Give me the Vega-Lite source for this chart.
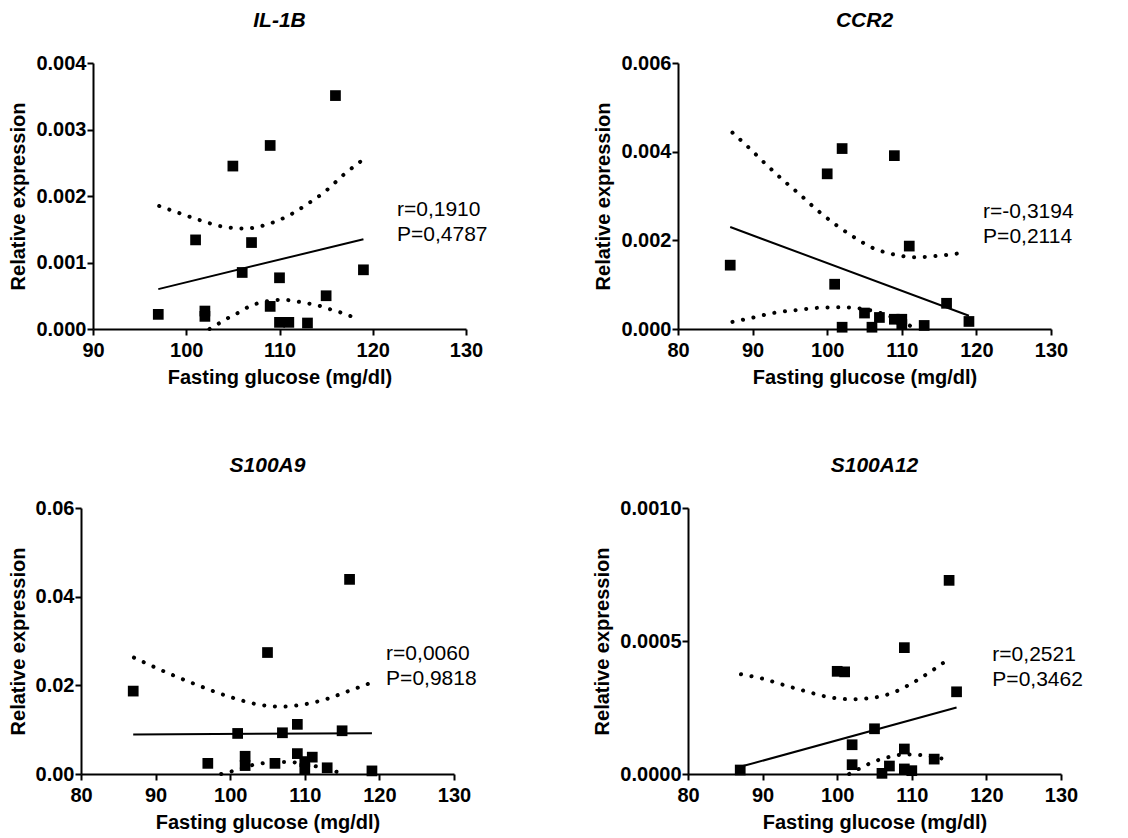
{
  "$schema": "https://vega.github.io/schema/vega-lite/v6.json",
  "background": "white",
  "padding": {"left": 1, "top": 10, "right": 5, "bottom": 5},
  "config": {
    "view": {"stroke": null},
    "font": "Liberation Sans",
    "title": {"font": "Liberation Sans", "fontSize": 21, "fontWeight": "bold", "fontStyle": "italic", "color": "black", "offset": 22, "frame": "group", "anchor": "middle"},
    "axis": {"grid": false, "domainColor": "black", "domainWidth": 2, "tickColor": "black", "tickWidth": 2, "tickSize": 6, "labelFont": "Liberation Sans", "labelFontWeight": "bold", "labelFontSize": 20, "labelColor": "black", "titleFont": "Liberation Sans", "titleFontWeight": "bold", "titleFontSize": 20, "titleColor": "black", "labelOverlap": false},
    "axisX": {"labelPadding": 5, "titlePadding": 7, "labelFlush": false},
    "axisY": {"labelPadding": 1, "titlePadding": 7}
  },
  "datasets": {
    "pts": [
      {"gene": "IL-1B", "glucose": 97, "expr": 0.00022},
      {"gene": "IL-1B", "glucose": 101, "expr": 0.00134},
      {"gene": "IL-1B", "glucose": 102, "expr": 0.00027},
      {"gene": "IL-1B", "glucose": 102, "expr": 0.00019},
      {"gene": "IL-1B", "glucose": 105, "expr": 0.00245},
      {"gene": "IL-1B", "glucose": 106, "expr": 0.00085},
      {"gene": "IL-1B", "glucose": 107, "expr": 0.0013},
      {"gene": "IL-1B", "glucose": 109, "expr": 0.00276},
      {"gene": "IL-1B", "glucose": 109, "expr": 0.00034},
      {"gene": "IL-1B", "glucose": 110, "expr": 0.00077},
      {"gene": "IL-1B", "glucose": 110, "expr": 0.0001},
      {"gene": "IL-1B", "glucose": 111, "expr": 0.0001},
      {"gene": "IL-1B", "glucose": 113, "expr": 0.00009},
      {"gene": "IL-1B", "glucose": 115, "expr": 0.0005},
      {"gene": "IL-1B", "glucose": 116, "expr": 0.00351},
      {"gene": "IL-1B", "glucose": 119, "expr": 0.00089},
      {"gene": "CCR2", "glucose": 87, "expr": 0.00144},
      {"gene": "CCR2", "glucose": 100, "expr": 0.0035},
      {"gene": "CCR2", "glucose": 101, "expr": 0.00101},
      {"gene": "CCR2", "glucose": 102, "expr": 0.00407},
      {"gene": "CCR2", "glucose": 102, "expr": 0.00004},
      {"gene": "CCR2", "glucose": 105, "expr": 0.00036},
      {"gene": "CCR2", "glucose": 106, "expr": 0.00004},
      {"gene": "CCR2", "glucose": 107, "expr": 0.00026},
      {"gene": "CCR2", "glucose": 109, "expr": 0.00391},
      {"gene": "CCR2", "glucose": 109, "expr": 0.00022},
      {"gene": "CCR2", "glucose": 110, "expr": 0.00022},
      {"gene": "CCR2", "glucose": 110, "expr": 0.0001},
      {"gene": "CCR2", "glucose": 111, "expr": 0.00187},
      {"gene": "CCR2", "glucose": 113, "expr": 0.00008},
      {"gene": "CCR2", "glucose": 116, "expr": 0.00058},
      {"gene": "CCR2", "glucose": 119, "expr": 0.00017},
      {"gene": "S100A9", "glucose": 87, "expr": 0.0187},
      {"gene": "S100A9", "glucose": 97, "expr": 0.0024},
      {"gene": "S100A9", "glucose": 101, "expr": 0.00915},
      {"gene": "S100A9", "glucose": 102, "expr": 0.004},
      {"gene": "S100A9", "glucose": 102, "expr": 0.0019},
      {"gene": "S100A9", "glucose": 105, "expr": 0.0274},
      {"gene": "S100A9", "glucose": 106, "expr": 0.0024},
      {"gene": "S100A9", "glucose": 107, "expr": 0.0093},
      {"gene": "S100A9", "glucose": 109, "expr": 0.0112},
      {"gene": "S100A9", "glucose": 109, "expr": 0.0046},
      {"gene": "S100A9", "glucose": 110, "expr": 0.0028},
      {"gene": "S100A9", "glucose": 110, "expr": 0.0012},
      {"gene": "S100A9", "glucose": 111, "expr": 0.0038},
      {"gene": "S100A9", "glucose": 113, "expr": 0.0014},
      {"gene": "S100A9", "glucose": 115, "expr": 0.00975},
      {"gene": "S100A9", "glucose": 116, "expr": 0.0439},
      {"gene": "S100A9", "glucose": 119, "expr": 0.0007},
      {"gene": "S100A12", "glucose": 87, "expr": 0.000015},
      {"gene": "S100A12", "glucose": 100, "expr": 0.000386},
      {"gene": "S100A12", "glucose": 101, "expr": 0.000384},
      {"gene": "S100A12", "glucose": 102, "expr": 0.00011},
      {"gene": "S100A12", "glucose": 102, "expr": 0.000035},
      {"gene": "S100A12", "glucose": 105, "expr": 0.00017},
      {"gene": "S100A12", "glucose": 106, "expr": 0.0000025},
      {"gene": "S100A12", "glucose": 107, "expr": 0.00003},
      {"gene": "S100A12", "glucose": 109, "expr": 0.000475},
      {"gene": "S100A12", "glucose": 109, "expr": 0.000094},
      {"gene": "S100A12", "glucose": 109, "expr": 0.000019},
      {"gene": "S100A12", "glucose": 110, "expr": 0.0000125},
      {"gene": "S100A12", "glucose": 113, "expr": 0.000056},
      {"gene": "S100A12", "glucose": 115, "expr": 0.000728},
      {"gene": "S100A12", "glucose": 116, "expr": 0.000309}
    ],
    "curves": [
      {"gene": "IL-1B", "curve": "fit", "glucose": 97, "expr": 0.0006},
      {"gene": "IL-1B", "curve": "fit", "glucose": 119, "expr": 0.00135},
      {"gene": "IL-1B", "curve": "upper", "glucose": 97.1, "expr": 0.00185},
      {"gene": "IL-1B", "curve": "upper", "glucose": 99.3, "expr": 0.00174},
      {"gene": "IL-1B", "curve": "upper", "glucose": 101.6, "expr": 0.00163},
      {"gene": "IL-1B", "curve": "upper", "glucose": 103.9, "expr": 0.00154},
      {"gene": "IL-1B", "curve": "upper", "glucose": 106.3, "expr": 0.00151},
      {"gene": "IL-1B", "curve": "upper", "glucose": 108.6, "expr": 0.00157},
      {"gene": "IL-1B", "curve": "upper", "glucose": 110.9, "expr": 0.0017},
      {"gene": "IL-1B", "curve": "upper", "glucose": 113.0, "expr": 0.00188},
      {"gene": "IL-1B", "curve": "upper", "glucose": 115.0, "expr": 0.00208},
      {"gene": "IL-1B", "curve": "upper", "glucose": 116.8, "expr": 0.00231},
      {"gene": "IL-1B", "curve": "upper", "glucose": 118.7, "expr": 0.00252},
      {"gene": "IL-1B", "curve": "lower", "glucose": 102.5, "expr": 0},
      {"gene": "IL-1B", "curve": "lower", "glucose": 103.7, "expr": 0.0001},
      {"gene": "IL-1B", "curve": "lower", "glucose": 104.8, "expr": 0.00019},
      {"gene": "IL-1B", "curve": "lower", "glucose": 105.8, "expr": 0.00026},
      {"gene": "IL-1B", "curve": "lower", "glucose": 106.9, "expr": 0.00035},
      {"gene": "IL-1B", "curve": "lower", "glucose": 108.1, "expr": 0.0004},
      {"gene": "IL-1B", "curve": "lower", "glucose": 109.3, "expr": 0.00043},
      {"gene": "IL-1B", "curve": "lower", "glucose": 110.4, "expr": 0.00044},
      {"gene": "IL-1B", "curve": "lower", "glucose": 111.6, "expr": 0.00042},
      {"gene": "IL-1B", "curve": "lower", "glucose": 112.8, "expr": 0.00039},
      {"gene": "IL-1B", "curve": "lower", "glucose": 114.0, "expr": 0.00036},
      {"gene": "IL-1B", "curve": "lower", "glucose": 115.1, "expr": 0.00031},
      {"gene": "IL-1B", "curve": "lower", "glucose": 116.3, "expr": 0.00026},
      {"gene": "IL-1B", "curve": "lower", "glucose": 117.5, "expr": 0.0002},
      {"gene": "IL-1B", "curve": "lower", "glucose": 118.6, "expr": 0.00015},
      {"gene": "CCR2", "curve": "fit", "glucose": 87, "expr": 0.0023},
      {"gene": "CCR2", "curve": "fit", "glucose": 119, "expr": 0.0003},
      {"gene": "CCR2", "curve": "upper", "glucose": 87.3, "expr": 0.00443},
      {"gene": "CCR2", "curve": "upper", "glucose": 89.5, "expr": 0.00409},
      {"gene": "CCR2", "curve": "upper", "glucose": 91.7, "expr": 0.00373},
      {"gene": "CCR2", "curve": "upper", "glucose": 94.0, "expr": 0.00337},
      {"gene": "CCR2", "curve": "upper", "glucose": 96.3, "expr": 0.00304},
      {"gene": "CCR2", "curve": "upper", "glucose": 98.6, "expr": 0.00269},
      {"gene": "CCR2", "curve": "upper", "glucose": 101.0, "expr": 0.00237},
      {"gene": "CCR2", "curve": "upper", "glucose": 103.5, "expr": 0.00208},
      {"gene": "CCR2", "curve": "upper", "glucose": 106.1, "expr": 0.00183},
      {"gene": "CCR2", "curve": "upper", "glucose": 109.0, "expr": 0.00168},
      {"gene": "CCR2", "curve": "upper", "glucose": 111.9, "expr": 0.00162},
      {"gene": "CCR2", "curve": "upper", "glucose": 114.9, "expr": 0.00165},
      {"gene": "CCR2", "curve": "upper", "glucose": 117.8, "expr": 0.00171},
      {"gene": "CCR2", "curve": "lower", "glucose": 87.3, "expr": 0.00016},
      {"gene": "CCR2", "curve": "lower", "glucose": 90.1, "expr": 0.00026},
      {"gene": "CCR2", "curve": "lower", "glucose": 93.1, "expr": 0.00037},
      {"gene": "CCR2", "curve": "lower", "glucose": 96.1, "expr": 0.00043},
      {"gene": "CCR2", "curve": "lower", "glucose": 99.0, "expr": 0.00048},
      {"gene": "CCR2", "curve": "lower", "glucose": 102.0, "expr": 0.00049},
      {"gene": "CCR2", "curve": "lower", "glucose": 104.9, "expr": 0.00045},
      {"gene": "CCR2", "curve": "lower", "glucose": 107.7, "expr": 0.00033},
      {"gene": "CCR2", "curve": "lower", "glucose": 110.4, "expr": 0.00013},
      {"gene": "CCR2", "curve": "lower", "glucose": 112.0, "expr": 0},
      {"gene": "S100A9", "curve": "fit", "glucose": 87, "expr": 0.0089},
      {"gene": "S100A9", "curve": "fit", "glucose": 119, "expr": 0.0092},
      {"gene": "S100A9", "curve": "upper", "glucose": 87.1, "expr": 0.02625},
      {"gene": "S100A9", "curve": "upper", "glucose": 89.8, "expr": 0.02415},
      {"gene": "S100A9", "curve": "upper", "glucose": 92.6, "expr": 0.0221},
      {"gene": "S100A9", "curve": "upper", "glucose": 95.4, "expr": 0.0202},
      {"gene": "S100A9", "curve": "upper", "glucose": 98.2, "expr": 0.0184},
      {"gene": "S100A9", "curve": "upper", "glucose": 101.1, "expr": 0.0168},
      {"gene": "S100A9", "curve": "upper", "glucose": 104.0, "expr": 0.0156},
      {"gene": "S100A9", "curve": "upper", "glucose": 107.0, "expr": 0.0152},
      {"gene": "S100A9", "curve": "upper", "glucose": 109.9, "expr": 0.0157},
      {"gene": "S100A9", "curve": "upper", "glucose": 112.9, "expr": 0.0169},
      {"gene": "S100A9", "curve": "upper", "glucose": 115.7, "expr": 0.0186},
      {"gene": "S100A9", "curve": "upper", "glucose": 118.6, "expr": 0.0204},
      {"gene": "S100A9", "curve": "lower", "glucose": 98.8, "expr": 0},
      {"gene": "S100A9", "curve": "lower", "glucose": 100.2, "expr": 0.0006},
      {"gene": "S100A9", "curve": "lower", "glucose": 101.7, "expr": 0.0014},
      {"gene": "S100A9", "curve": "lower", "glucose": 103.2, "expr": 0.0021},
      {"gene": "S100A9", "curve": "lower", "glucose": 104.7, "expr": 0.0025},
      {"gene": "S100A9", "curve": "lower", "glucose": 106.2, "expr": 0.0027},
      {"gene": "S100A9", "curve": "lower", "glucose": 107.7, "expr": 0.0027},
      {"gene": "S100A9", "curve": "lower", "glucose": 109.2, "expr": 0.0025},
      {"gene": "S100A9", "curve": "lower", "glucose": 110.7, "expr": 0.002},
      {"gene": "S100A9", "curve": "lower", "glucose": 112.1, "expr": 0.0015},
      {"gene": "S100A9", "curve": "lower", "glucose": 113.6, "expr": 0.0008},
      {"gene": "S100A9", "curve": "lower", "glucose": 115.0, "expr": 0.0002},
      {"gene": "S100A12", "curve": "fit", "glucose": 87, "expr": 0.000027},
      {"gene": "S100A12", "curve": "fit", "glucose": 116, "expr": 0.00025},
      {"gene": "S100A12", "curve": "upper", "glucose": 87.1, "expr": 0.000375},
      {"gene": "S100A12", "curve": "upper", "glucose": 89.9, "expr": 0.000359},
      {"gene": "S100A12", "curve": "upper", "glucose": 92.9, "expr": 0.000334},
      {"gene": "S100A12", "curve": "upper", "glucose": 95.8, "expr": 0.000311},
      {"gene": "S100A12", "curve": "upper", "glucose": 98.7, "expr": 0.00029},
      {"gene": "S100A12", "curve": "upper", "glucose": 101.7, "expr": 0.000281},
      {"gene": "S100A12", "curve": "upper", "glucose": 104.6, "expr": 0.000286},
      {"gene": "S100A12", "curve": "upper", "glucose": 107.5, "expr": 0.000306},
      {"gene": "S100A12", "curve": "upper", "glucose": 110.2, "expr": 0.000344},
      {"gene": "S100A12", "curve": "upper", "glucose": 112.8, "expr": 0.00039},
      {"gene": "S100A12", "curve": "upper", "glucose": 115.3, "expr": 0.00044},
      {"gene": "S100A12", "curve": "lower", "glucose": 101.6, "expr": 0},
      {"gene": "S100A12", "curve": "lower", "glucose": 103.1, "expr": 0.000022},
      {"gene": "S100A12", "curve": "lower", "glucose": 104.4, "expr": 0.00004},
      {"gene": "S100A12", "curve": "lower", "glucose": 105.9, "expr": 0.000056},
      {"gene": "S100A12", "curve": "lower", "glucose": 107.3, "expr": 0.000066},
      {"gene": "S100A12", "curve": "lower", "glucose": 108.8, "expr": 0.000073},
      {"gene": "S100A12", "curve": "lower", "glucose": 110.3, "expr": 0.000073},
      {"gene": "S100A12", "curve": "lower", "glucose": 111.7, "expr": 0.000069},
      {"gene": "S100A12", "curve": "lower", "glucose": 113.3, "expr": 0.000062},
      {"gene": "S100A12", "curve": "lower", "glucose": 114.8, "expr": 0.000054}
    ],
    "stats": [
      {"gene": "IL-1B", "label": "r=0,1910\nP=0,4787"},
      {"gene": "CCR2", "label": "r=-0,3194\nP=0,2114"},
      {"gene": "S100A9", "label": "r=0,0060\nP=0,9818"},
      {"gene": "S100A12", "label": "r=0,2521\nP=0,3462"}
    ]
  },
  "columns": 1,
  "bounds": "flush",
  "spacing": 445,
  "concat": [
    {
      "spacing": 0,
      "hconcat": [
        {"width": 1, "height": 1, "data": {"values": [{}]}, "mark": {"type": "point", "opacity": 0}},
        {
          "spacing": 105,
          "hconcat": [
            {
              "width": 373, "height": 266,
              "title": "IL-1B",
              "layer": [
                {
                  "data": {"name": "pts"},
                  "transform": [{"filter": "datum.gene === 'IL-1B'"}],
                  "mark": {"type": "point", "shape": "square", "filled": true, "color": "black", "opacity": 1, "size": 115},
                  "encoding": {
                    "x": {"field": "glucose", "type": "quantitative", "scale": {"domain": [90, 130], "nice": false, "zero": false}, "axis": {"title": "Fasting glucose (mg/dl)", "values": [90, 100, 110, 120, 130]}},
                    "y": {"field": "expr", "type": "quantitative", "scale": {"domain": [0, 0.004], "nice": false}, "axis": {"title": "Relative expression", "values": [0, 0.001, 0.002, 0.003, 0.004], "format": ".3f"}}
                  }
                },
                {
                  "data": {"name": "curves"},
                  "transform": [{"filter": "datum.gene === 'IL-1B' && datum.curve === 'fit'"}],
                  "mark": {"type": "line", "color": "black", "strokeWidth": 2},
                  "encoding": {"x": {"field": "glucose", "type": "quantitative"}, "y": {"field": "expr", "type": "quantitative"}}
                },
                {
                  "data": {"name": "curves"},
                  "transform": [{"filter": "datum.gene === 'IL-1B' && datum.curve !== 'fit'"}],
                  "mark": {"type": "line", "color": "black", "strokeWidth": 4, "strokeDash": [0.1, 10.6], "strokeCap": "round", "interpolate": "monotone"},
                  "encoding": {"x": {"field": "glucose", "type": "quantitative"}, "y": {"field": "expr", "type": "quantitative"}, "detail": {"field": "curve"}}
                },
                {
                  "data": {"name": "stats"},
                  "transform": [{"filter": "datum.gene === 'IL-1B'"}],
                  "mark": {"type": "text", "align": "left", "baseline": "middle", "font": "Liberation Sans", "fontSize": 21, "lineHeight": 25, "lineBreak": "\n", "color": "black"},
                  "encoding": {"x": {"datum": 122.6, "type": "quantitative"}, "y": {"datum": 0.00179, "type": "quantitative"}, "text": {"field": "label"}}
                }
              ]
            },
            {
              "width": 373, "height": 266,
              "title": "CCR2",
              "layer": [
                {
                  "data": {"name": "pts"},
                  "transform": [{"filter": "datum.gene === 'CCR2'"}],
                  "mark": {"type": "point", "shape": "square", "filled": true, "color": "black", "opacity": 1, "size": 115},
                  "encoding": {
                    "x": {"field": "glucose", "type": "quantitative", "scale": {"domain": [80, 130], "nice": false, "zero": false}, "axis": {"title": "Fasting glucose (mg/dl)", "values": [80, 90, 100, 110, 120, 130]}},
                    "y": {"field": "expr", "type": "quantitative", "scale": {"domain": [0, 0.006], "nice": false}, "axis": {"title": "Relative expression", "values": [0, 0.002, 0.004, 0.006], "format": ".3f"}}
                  }
                },
                {
                  "data": {"name": "curves"},
                  "transform": [{"filter": "datum.gene === 'CCR2' && datum.curve === 'fit'"}],
                  "mark": {"type": "line", "color": "black", "strokeWidth": 2},
                  "encoding": {"x": {"field": "glucose", "type": "quantitative"}, "y": {"field": "expr", "type": "quantitative"}}
                },
                {
                  "data": {"name": "curves"},
                  "transform": [{"filter": "datum.gene === 'CCR2' && datum.curve !== 'fit'"}],
                  "mark": {"type": "line", "color": "black", "strokeWidth": 4, "strokeDash": [0.1, 10.6], "strokeCap": "round", "interpolate": "monotone"},
                  "encoding": {"x": {"field": "glucose", "type": "quantitative"}, "y": {"field": "expr", "type": "quantitative"}, "detail": {"field": "curve"}}
                },
                {
                  "data": {"name": "stats"},
                  "transform": [{"filter": "datum.gene === 'CCR2'"}],
                  "mark": {"type": "text", "align": "left", "baseline": "middle", "font": "Liberation Sans", "fontSize": 21, "lineHeight": 25, "lineBreak": "\n", "color": "black"},
                  "encoding": {"x": {"datum": 120.9, "type": "quantitative"}, "y": {"datum": 0.00265, "type": "quantitative"}, "text": {"field": "label"}}
                }
              ]
            }
          ]
        }
      ]
    },
    {
      "spacing": 0,
      "hconcat": [
        {"width": 1, "height": 1, "data": {"values": [{}]}, "mark": {"type": "point", "opacity": 0}},
        {
          "spacing": 115,
          "hconcat": [
            {
              "width": 373, "height": 266,
              "title": "S100A9",
              "layer": [
                {
                  "data": {"name": "pts"},
                  "transform": [{"filter": "datum.gene === 'S100A9'"}],
                  "mark": {"type": "point", "shape": "square", "filled": true, "color": "black", "opacity": 1, "size": 115},
                  "encoding": {
                    "x": {"field": "glucose", "type": "quantitative", "scale": {"domain": [80, 130], "nice": false, "zero": false}, "axis": {"title": "Fasting glucose (mg/dl)", "values": [80, 90, 100, 110, 120, 130]}},
                    "y": {"field": "expr", "type": "quantitative", "scale": {"domain": [0, 0.06], "nice": false}, "axis": {"title": "Relative expression", "values": [0, 0.02, 0.04, 0.06], "format": ".2f"}}
                  }
                },
                {
                  "data": {"name": "curves"},
                  "transform": [{"filter": "datum.gene === 'S100A9' && datum.curve === 'fit'"}],
                  "mark": {"type": "line", "color": "black", "strokeWidth": 2},
                  "encoding": {"x": {"field": "glucose", "type": "quantitative"}, "y": {"field": "expr", "type": "quantitative"}}
                },
                {
                  "data": {"name": "curves"},
                  "transform": [{"filter": "datum.gene === 'S100A9' && datum.curve !== 'fit'"}],
                  "mark": {"type": "line", "color": "black", "strokeWidth": 4, "strokeDash": [0.1, 10.6], "strokeCap": "round", "interpolate": "monotone"},
                  "encoding": {"x": {"field": "glucose", "type": "quantitative"}, "y": {"field": "expr", "type": "quantitative"}, "detail": {"field": "curve"}}
                },
                {
                  "data": {"name": "stats"},
                  "transform": [{"filter": "datum.gene === 'S100A9'"}],
                  "mark": {"type": "text", "align": "left", "baseline": "middle", "font": "Liberation Sans", "fontSize": 21, "lineHeight": 25, "lineBreak": "\n", "color": "black"},
                  "encoding": {"x": {"datum": 120.9, "type": "quantitative"}, "y": {"datum": 0.02715, "type": "quantitative"}, "text": {"field": "label"}}
                }
              ]
            },
            {
              "width": 373, "height": 266,
              "title": "S100A12",
              "layer": [
                {
                  "data": {"name": "pts"},
                  "transform": [{"filter": "datum.gene === 'S100A12'"}],
                  "mark": {"type": "point", "shape": "square", "filled": true, "color": "black", "opacity": 1, "size": 115},
                  "encoding": {
                    "x": {"field": "glucose", "type": "quantitative", "scale": {"domain": [80, 130], "nice": false, "zero": false}, "axis": {"title": "Fasting glucose (mg/dl)", "values": [80, 90, 100, 110, 120, 130]}},
                    "y": {"field": "expr", "type": "quantitative", "scale": {"domain": [0, 0.001], "nice": false}, "axis": {"title": "Relative expression", "values": [0, 0.0005, 0.001], "format": ".4f"}}
                  }
                },
                {
                  "data": {"name": "curves"},
                  "transform": [{"filter": "datum.gene === 'S100A12' && datum.curve === 'fit'"}],
                  "mark": {"type": "line", "color": "black", "strokeWidth": 2},
                  "encoding": {"x": {"field": "glucose", "type": "quantitative"}, "y": {"field": "expr", "type": "quantitative"}}
                },
                {
                  "data": {"name": "curves"},
                  "transform": [{"filter": "datum.gene === 'S100A12' && datum.curve !== 'fit'"}],
                  "mark": {"type": "line", "color": "black", "strokeWidth": 4, "strokeDash": [0.1, 10.6], "strokeCap": "round", "interpolate": "monotone"},
                  "encoding": {"x": {"field": "glucose", "type": "quantitative"}, "y": {"field": "expr", "type": "quantitative"}, "detail": {"field": "curve"}}
                },
                {
                  "data": {"name": "stats"},
                  "transform": [{"filter": "datum.gene === 'S100A12'"}],
                  "mark": {"type": "text", "align": "left", "baseline": "middle", "font": "Liberation Sans", "fontSize": 21, "lineHeight": 25, "lineBreak": "\n", "color": "black"},
                  "encoding": {"x": {"datum": 120.8, "type": "quantitative"}, "y": {"datum": 0.000446, "type": "quantitative"}, "text": {"field": "label"}}
                }
              ]
            }
          ]
        }
      ]
    }
  ]
}
